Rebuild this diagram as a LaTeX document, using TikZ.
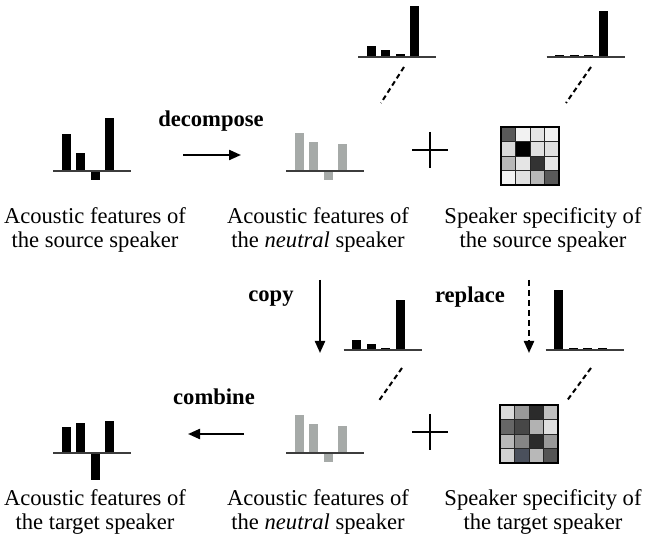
\documentclass[tikz,border=0pt]{standalone}
\usepackage{fontspec}
\setmainfont{Liberation Serif}
\usetikzlibrary{arrows.meta, calc}
\definecolor{bargray}{RGB}{166,170,168}
\definecolor{axisgray}{RGB}{60,60,60}
\definecolor{slate}{RGB}{74,80,92}
\begin{document}
\begin{tikzpicture}[x=1pt, y=-1pt, >={Triangle[length=12pt, width=10pt]},
  lbl/.style={align=center, inner sep=0pt, font=\fontsize{22.6}{24}\selectfont},
  op/.style={inner sep=0pt, font=\fontsize{22.6}{24}\selectfont\bfseries},
  axis/.style={draw=axisgray, line width=1.6pt},
  flow/.style={->, line width=2.2pt},
  proj/.style={line width=2pt, dash pattern=on 5pt off 3.5pt},
  cell/.style={draw=black!85, line width=0.9pt},
  plus/.style={line width=1.3pt}]
\useasboundingbox (0,0) rectangle (649,540);
% bar charts: axis start / axis height / colour / bar heights
\foreach \cx/\cy/\cc/\hh in {53/171/black/{37,18,-9,53}, 286/171/bargray/{38,29,-9,27},
    358/57/black/{11,7,3,51}, 546.5/57/black/{1.5,1.5,1.5,46},
    343.5/350/black/{10,6,2.3,50}, 545.5/350/black/{60,1.5,1.5,1.5},
    286/453/bargray/{38,29,-9,27}, 53/453/black/{26,30,-27,32}}{
  \foreach \h [count=\i from 0] in \hh
    \fill[\cc] ({\cx+8.5+14.5*\i},\cy) rectangle ++(9,{-\h});
  \draw[axis] (\cx,\cy) -- ++(78,0);
}
% speaker matrices
\foreach \r/\vals in {0/{black!65,black!5,black!10,black!5}, 1/{black!15,black,black!12,black!12},
    2/{black!28,black!10,black!80,black!10}, 3/{black!5,black!12,black!28,black!65}}
  \foreach \v [count=\c from 0] in \vals
    \filldraw[cell, fill=\v] ({501+14.5*\c},{127+14.5*\r}) rectangle ++(14.5,14.5);
\draw[line width=1.4pt] (501,127) rectangle ++(58,58);
\foreach \r/\vals in {0/{black!15,black!40,black!83,black!25}, 1/{black!60,black!72,black!30,black!12},
    2/{black!28,black!48,black!83,black!40}, 3/{black!18,slate,black!28,black!67}}
  \foreach \v [count=\c from 0] in \vals
    \filldraw[cell, fill=\v] ({500+14.5*\c},{405+14.5*\r}) rectangle ++(14.5,14.5);
\draw[line width=1.4pt] (500,405) rectangle ++(58,58);
% plus signs
\coordinate (plus1) at (430,150);
\coordinate (plus2) at (430,432);
\foreach \p in {plus1, plus2}{
  \draw[plus] ($(\p)+(-18,0)$) -- ($(\p)+(18,0)$);
  \draw[plus] ($(\p)+(0,-18)$) -- ($(\p)+(0,18)$);
}
% arrow ends
\coordinate (dec-a) at (183,155);
\coordinate (dec-b) at (241,155);
\coordinate (com-a) at (244,434);
\coordinate (com-b) at (188,434);
\coordinate (cop-a) at (320,280);
\coordinate (cop-b) at (320,353);
\coordinate (rep-a) at (529,280);
\coordinate (rep-b) at (529,353);
\draw[flow] (dec-a) -- (dec-b);
\draw[flow] (com-a) -- (com-b);
\draw[flow] (cop-a) -- (cop-b);
\draw[flow, dash pattern=on 6pt off 4pt] (rep-a) -- (rep-b);
% zoom lines
\coordinate (zm1-a) at (404,67);
\coordinate (zm1-b) at (381,103);
\coordinate (zm2-a) at (591,67);
\coordinate (zm2-b) at (566,103);
\coordinate (zm3-a) at (402,368);
\coordinate (zm3-b) at (378,402);
\coordinate (zm4-a) at (591,368);
\coordinate (zm4-b) at (566,402);
\foreach \z in {1,...,4} \draw[proj] (zm\z-a) -- (zm\z-b);
% operations
\node[op] (decompose) at (211,121) {decompose};
\node[op] (combine) at (214,397) {combine};
\node[op] (copy) at (271,299) {copy};
\node[op] (replace) at (470,297) {replace};
% captions
\node[lbl] (src) at (95,230) {Acoustic features of\\the source speaker};
\node[lbl] (neu1) at (318,230) {Acoustic features of\\the \textit{neutral} speaker};
\node[lbl] (spk1) at (543,230) {Speaker specificity of\\the source speaker};
\node[lbl] (tgt) at (95,512) {Acoustic features of\\the target speaker};
\node[lbl] (neu2) at (318,512) {Acoustic features of\\the \textit{neutral} speaker};
\node[lbl] (spk2) at (543,512) {Speaker specificity of\\the target speaker};
\end{tikzpicture}
\end{document}
